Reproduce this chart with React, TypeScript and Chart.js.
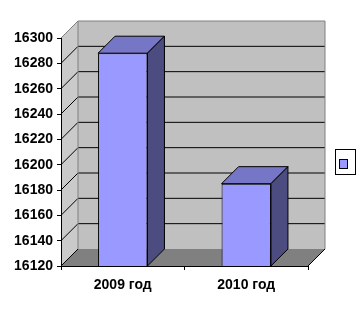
import React, { useEffect, useRef } from 'react';
import { Chart, registerables } from 'chart.js';

Chart.register(...registerables);

const categories: string[] = ['2009 год', '2010 год'];
const values: number[] = [16288, 16185];
const yMin = 16120;
const yMax = 16300;
const yStep = 20;

const DX = 17;
const DY = -17;

const FONT = { family: '"Liberation Sans", Arial, sans-serif', size: 14, weight: 'bold' as const };

function poly(ctx: CanvasRenderingContext2D, pts: number[][]) {
  ctx.beginPath();
  ctx.moveTo(pts[0][0], pts[0][1]);
  for (let i = 1; i < pts.length; i++) ctx.lineTo(pts[i][0], pts[i][1]);
  ctx.closePath();
}

const threeD = {
  id: 'threeD',
  beforeDraw(chart: any) {
    const { ctx, chartArea: a, scales } = chart;
    const ys = scales.y;
    const L = a.left, R = a.right, T = a.top, B = a.bottom;
    ctx.save();
    ctx.fillStyle = '#c0c0c0';
    ctx.fillRect(L + DX, T + DY, R - L, B - T);
    poly(ctx, [[L, T], [L + DX, T + DY], [L + DX, B + DY], [L, B]]);
    ctx.fillStyle = '#cacaca';
    ctx.fill();
    poly(ctx, [[L, B], [L + DX, B + DY], [R + DX, B + DY], [R, B]]);
    ctx.fillStyle = '#808080';
    ctx.fill();
    ctx.strokeStyle = '#000';
    ctx.lineWidth = 1;
    for (let v = yMin + yStep; v < yMax; v += yStep) {
      const py = ys.getPixelForValue(v);
      ctx.beginPath();
      ctx.moveTo(L, py);
      ctx.lineTo(L + DX, py + DY);
      ctx.lineTo(R + DX, py + DY);
      ctx.stroke();
    }
    ctx.strokeStyle = '#808080';
    ctx.beginPath();
    ctx.moveTo(L, T);
    ctx.lineTo(L + DX, T + DY);
    ctx.lineTo(R + DX, T + DY);
    ctx.lineTo(R + DX, B + DY);
    ctx.stroke();
    ctx.beginPath();
    ctx.moveTo(L + DX, T + DY);
    ctx.lineTo(L + DX, B + DY);
    ctx.stroke();
    ctx.strokeStyle = '#000';
    ctx.beginPath();
    ctx.moveTo(R, B);
    ctx.lineTo(R + DX, B + DY);
    ctx.stroke();
    ctx.beginPath();
    ctx.moveTo(L, B);
    ctx.lineTo(L + DX, B + DY);
    ctx.stroke();
    ctx.restore();
  },
  afterDatasetsDraw(chart: any) {
    const { ctx, chartArea } = chart;
    const meta = chart.getDatasetMeta(0);
    const base = chartArea.bottom;
    ctx.save();
    ctx.strokeStyle = '#000';
    ctx.lineWidth = 1;
    meta.data.forEach((bar: any) => {
      const { x, y, width } = bar.getProps(['x', 'y', 'width'], true);
      const l = x - width / 2;
      const r = x + width / 2;
      poly(ctx, [[l, y], [l + DX, y + DY], [r + DX, y + DY], [r, y]]);
      ctx.fillStyle = '#7676c6';
      ctx.fill();
      ctx.stroke();
      poly(ctx, [[r, y], [r + DX, y + DY], [r + DX, base + DY], [r, base]]);
      ctx.fillStyle = '#4c4c80';
      ctx.fill();
      ctx.stroke();
    });
    ctx.restore();
  },
  afterDraw(chart: any) {
    const { ctx, width, height } = chart;
    const color = chart.data.datasets[0].backgroundColor;
    ctx.save();
    const bx = width - 28.5;
    const bw = 20;
    const bh = 25;
    const by = Math.round(height / 2 - bh / 2) + 0.5;
    ctx.fillStyle = '#fff';
    ctx.fillRect(bx, by, bw, bh);
    ctx.strokeStyle = '#000';
    ctx.lineWidth = 1;
    ctx.strokeRect(bx, by, bw, bh);
    ctx.fillStyle = color;
    ctx.fillRect(bx + 4, by + 10, 8, 9);
    ctx.strokeRect(bx + 4, by + 10, 8, 9);
    ctx.restore();
  },
};

export default function App() {
  const ref = useRef<HTMLCanvasElement | null>(null);
  useEffect(() => {
    if (!ref.current) return;
    const chart = new Chart(ref.current, {
      type: 'bar',
      data: {
        labels: categories,
        datasets: [
          {
            data: values,
            backgroundColor: '#9999ff',
            borderColor: '#000',
            borderWidth: 1,
            borderSkipped: false,
            barPercentage: 0.4,
            categoryPercentage: 1,
          },
        ],
      },
      options: {
        animation: false,
        responsive: true,
        maintainAspectRatio: false,
        layout: { padding: { left: 0, top: 38, right: 56, bottom: 0 } },
        plugins: { legend: { display: false }, tooltip: { enabled: false } },
        scales: {
          x: {
            offset: true,
            grid: { offset: true, drawOnChartArea: false, tickLength: 4, color: '#000' },
            border: { display: true, color: '#000' },
            ticks: { color: '#000', font: FONT, padding: 7, maxRotation: 0 },
            afterFit: (s: any) => { s.height = 57; },
          },
          y: {
            min: yMin,
            max: yMax,
            grid: { drawOnChartArea: false, tickLength: 4, color: '#000' },
            border: { display: true, color: '#000' },
            ticks: {
              stepSize: yStep,
              color: '#000',
              font: FONT,
              padding: 4,
              callback: (v: any) => String(v),
            },
            afterFit: (s: any) => { s.width = 61; },
          },
        },
      },
      plugins: [threeD],
    });
    return () => chart.destroy();
  }, []);
  return (
    <div style={{ position: 'absolute', left: 0, top: 0, width: 364, height: 323 }}>
      <canvas ref={ref} />
    </div>
  );
}
